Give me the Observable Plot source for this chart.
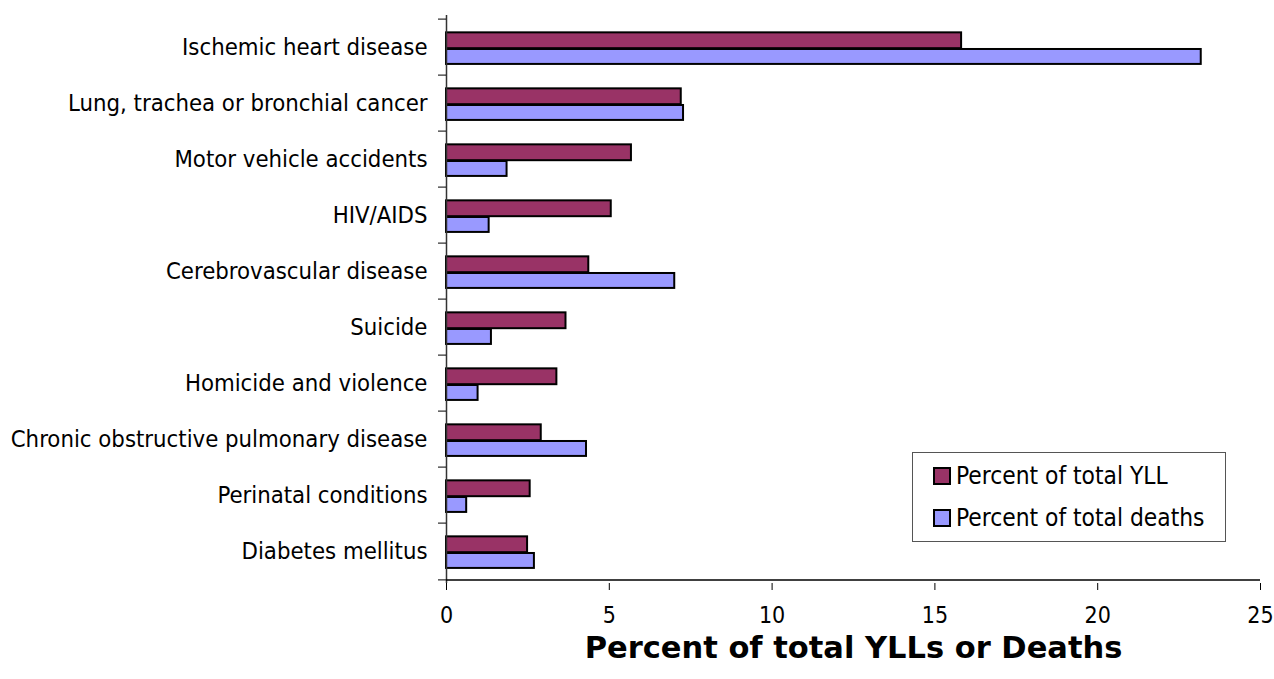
<!DOCTYPE html>
<html>
<head>
<meta charset="utf-8">
<script src="https://cdn.jsdelivr.net/npm/d3@7"></script>
<script src="https://cdn.jsdelivr.net/npm/@observablehq/plot@0.6"></script>
<style>
  body { margin: 0; background: #fff; }
  #wrap { position: relative; width: 1274px; height: 679px; font-family: "DejaVu Sans Condensed", "DejaVu Sans", sans-serif; color: #000; }
  #wrap svg { font-family: "DejaVu Sans Condensed", "DejaVu Sans", sans-serif; }
  #wrap svg g[aria-label="y-axis tick label"] text { font-size: 23.7px; }
  #wrap svg g[aria-label="x-axis tick label"] text { font-size: 23px; }
  #wrap svg g[aria-label="x-axis label"] text { font-family: "DejaVu Sans", sans-serif; font-size: 30.5px; font-weight: bold; }
  #legend { position: absolute; left: 912px; top: 452px; width: 312px; height: 88px; border: 1px solid #555; background: #fff; }
  .item { position: absolute; left: 20px; display: flex; align-items: center; font-size: 24.3px; white-space: nowrap; }
  .sw { width: 14px; height: 14px; border: 2px solid #000; margin-right: 5px; }
</style>
</head>
<body>
<div id="wrap"></div>
<script>
const causes = [
  "Ischemic heart disease",
  "Lung, trachea or bronchial cancer",
  "Motor vehicle accidents",
  "HIV/AIDS",
  "Cerebrovascular disease",
  "Suicide",
  "Homicide and violence",
  "Chronic obstructive pulmonary disease",
  "Perinatal conditions",
  "Diabetes mellitus"
];
const pctYLL    = [15.82, 7.21, 5.68, 5.06, 4.37, 3.67, 3.39, 2.91, 2.57, 2.49];
const pctDeaths = [23.18, 7.28, 1.86, 1.31, 7.01, 1.38, 0.97, 4.30, 0.62, 2.70];
const seriesNames = ["Percent of total YLL", "Percent of total deaths"];
const seriesColors = ["#993366", "#9999FF"];
const xTicks = [0, 5, 10, 15, 20, 25];

const W = 1274, H = 679;
const mL = 446, mR = 14, mT = 15, mB = 96;
const band = (H - mT - mB) / causes.length;
const half = band / 2;

const yllData = causes.map((c, i) => ({cause: c, value: pctYLL[i]}));
const deathData = causes.map((c, i) => ({cause: c, value: pctDeaths[i]}));

const chart = Plot.plot({
  width: W,
  height: H,
  marginLeft: mL,
  marginRight: mR,
  marginTop: mT,
  marginBottom: mB,
  style: {background: "#fff", color: "#000"},
  x: {domain: [0, 25], ticks: xTicks},
  y: {domain: causes, padding: 0},
  marks: [
    Plot.barX(yllData, {x: "value", y: "cause", fill: seriesColors[0], stroke: "#000", strokeWidth: 2,
      insetTop: band * 0.235, insetBottom: band * 0.472}),
    Plot.barX(deathData, {x: "value", y: "cause", fill: seriesColors[1], stroke: "#000", strokeWidth: 2,
      insetTop: band * 0.528, insetBottom: band * 0.195}),
    Plot.ruleX([0], {stroke: "#333", strokeWidth: 1.5}),
    Plot.ruleY([causes[causes.length - 1]], {dy: half, stroke: "#000", strokeWidth: 1.5}),
    Plot.axisY({tickSize: 0, tickPadding: 19, fontSize: 23.7, label: null}),
    Plot.axisY({text: null, tickSize: 8, dy: -half, label: null, stroke: "#000"}),
    Plot.axisY({ticks: [causes[causes.length - 1]], text: null, tickSize: 8, dy: half, label: null, stroke: "#000"}),
    Plot.axisX({ticks: xTicks, tickSize: 7, tickPadding: 16, fontSize: 23, label: null}),
    Plot.axisX({ticks: [], tickSize: 0,
      label: "Percent of total YLLs or Deaths", labelAnchor: "center", labelArrow: "none", labelOffset: 74})
  ]
});

const wrap = document.getElementById("wrap");
wrap.appendChild(chart);

const legend = document.createElement("div");
legend.id = "legend";
seriesNames.forEach((name, i) => {
  const it = document.createElement("div");
  it.className = "item";
  it.style.top = (i === 0 ? 8 : 50) + "px";
  const sw = document.createElement("div");
  sw.className = "sw";
  sw.style.background = seriesColors[i];
  const tx = document.createElement("span");
  tx.textContent = name;
  it.appendChild(sw);
  it.appendChild(tx);
  legend.appendChild(it);
});
wrap.appendChild(legend);
</script>
</body>
</html>
